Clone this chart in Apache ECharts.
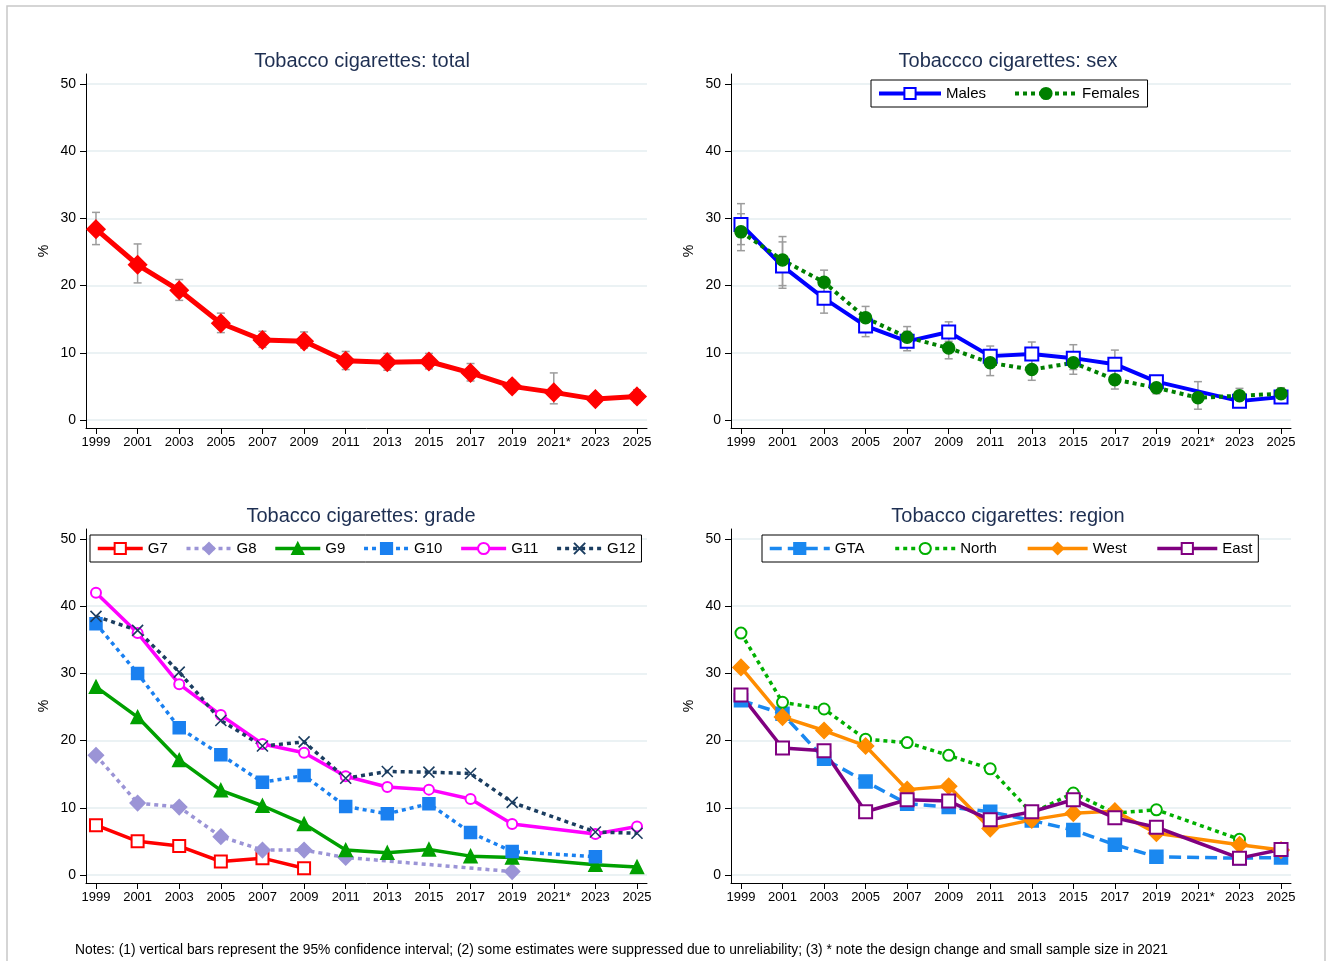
<!DOCTYPE html>
<html><head><meta charset="utf-8">
<script src="https://cdn.jsdelivr.net/npm/echarts@6/dist/echarts.min.js"></script>
<style>html,body{margin:0;padding:0;background:#fff}#c{width:1326px;height:961px}</style>
</head><body><div id="c"></div>
<script>
// ---------- data ----------
const yearLabels = ['1999','2001','2003','2005','2007','2009','2011','2013','2015','2017','2019','2021*','2023','2025'];
const yTicks = [0, 10, 20, 30, 40, 50];

const titles = ['Tobacco cigarettes: total', 'Tobaccco cigarettes: sex', 'Tobacco cigarettes: grade', 'Tobacco cigarettes: region'];
const noteText = 'Notes: (1) vertical bars represent the 95% confidence interval; (2) some estimates were suppressed due to unreliability; (3) * note the design change and small sample size in 2021';

const totalVals = [28.4, 23.1, 19.3, 14.4, 11.9, 11.7, 8.8, 8.6, 8.7, 7.0, 5.0, 4.1, 3.1, 3.5];
const totalLo   = [26.1, 20.4, 17.8, 13.0, 10.8, 10.7, 7.5, 7.4, 7.6, 5.8, 4.1, 2.4, 2.5, 2.6];
const totalHi   = [30.9, 26.2, 20.9, 15.9, 13.2, 13.1, 10.2, 9.9, 9.9, 8.4, 5.9, 7.0, 3.8, 4.5];

const malesVals = [29.1, 22.9, 18.1, 14.0, 11.7, 13.1, 9.5, 9.8, 9.2, 8.3, 5.7, null, 2.8, 3.4];
const malesLo   = [26.1, 19.6, 15.9, 12.4, 10.3, 11.7, 8.0, 8.1, 7.5, 6.4, 4.9, null, 2.0, 2.6];
const malesHi   = [32.2, 27.3, 20.2, 15.6, 13.2, 14.6, 11.0, 11.6, 11.2, 10.4, 6.5, null, 3.8, 4.4];
const femalesVals = [28.0, 23.8, 20.5, 15.2, 12.3, 10.7, 8.5, 7.5, 8.5, 6.0, 4.8, 3.3, 3.6, 3.9];
const femalesLo   = [25.2, 20.0, 18.7, 13.6, 10.9, 9.1, 6.6, 5.9, 6.8, 4.6, 3.9, 1.6, 2.7, 3.0];
const femalesHi   = [30.7, 26.5, 22.3, 16.9, 13.9, 12.2, 10.0, 9.0, 10.0, 7.4, 5.7, 5.7, 4.7, 4.8];

const g7  = [7.4, 5.0, 4.3, 2.0, 2.5, 1.0, null, null, null, null, null, null, null, null];
const g8  = [17.8, 10.7, 10.1, 5.7, 3.7, 3.7, 2.6, null, null, null, 0.5, null, null, null];
const g9  = [28.0, 23.5, 17.1, 12.6, 10.3, 7.6, 3.7, 3.3, 3.8, 2.8, 2.6, null, 1.5, 1.2];
const g10 = [37.4, 30.0, 21.9, 17.9, 13.8, 14.8, 10.2, 9.1, 10.6, 6.3, 3.5, null, 2.7, null];
const g11 = [42.0, 36.0, 28.4, 23.8, 19.5, 18.2, 14.7, 13.1, 12.7, 11.3, 7.6, null, 6.1, 7.2];
const g12 = [38.5, 36.4, 30.2, 23.0, 19.2, 19.8, 14.4, 15.4, 15.3, 15.1, 10.8, null, 6.4, 6.2];

const gta   = [26.0, 24.0, 17.3, 13.9, 10.6, 10.1, 9.4, 8.1, 6.7, 4.5, 2.7, null, 2.5, 2.6];
const north = [36.0, 25.7, 24.7, 20.2, 19.7, 17.8, 15.8, 9.2, 12.2, 9.2, 9.7, null, 5.3, null];
const west  = [30.9, 23.5, 21.5, 19.2, 12.7, 13.2, 6.9, 8.2, 9.2, 9.5, 6.2, null, 4.5, 3.7];
const east  = [26.8, 18.9, 18.5, 9.4, 11.2, 11.0, 8.2, 9.4, 11.2, 8.5, 7.1, null, 2.5, 3.8];

// ---------- build ----------
const FONT = '"Liberation Sans", Arial, sans-serif';
const yearNums = yearLabels.map(s => parseInt(s, 10));
const pairs = vals => yearNums.map((y, i) => [y, vals[i]]);

const gridPos = [
  {left: 86, top: 74, width: 561, height: 354},
  {left: 731, top: 74, width: 560, height: 354},
  {left: 86, top: 529, width: 561, height: 354},
  {left: 731, top: 529, width: 560, height: 354}
];

function xAxisFor(i) {
  return {
    type: 'value', gridIndex: i, min: 1998.52, max: 2025.48,
    axisLine: {show: true, onZero: false, lineStyle: {color: '#000', width: 1}},
    axisTick: {show: true, length: 6, customValues: yearNums, lineStyle: {color: '#000', width: 1}},
    axisLabel: {customValues: yearNums, formatter: v => yearLabels[yearNums.indexOf(Math.round(v))],
      fontSize: 13, color: '#000', fontFamily: FONT, margin: 8},
    splitLine: {show: false}
  };
}
function yAxisFor(i) {
  return {
    type: 'value', gridIndex: i, min: -1.2, max: 51.5,
    name: '%', nameLocation: 'middle', nameRotate: 90, nameGap: 35,
    nameTextStyle: {fontSize: 14, color: '#000', fontFamily: FONT},
    axisLine: {show: true, onZero: false, lineStyle: {color: '#000', width: 1}},
    axisTick: {show: true, length: 6, customValues: yTicks, lineStyle: {color: '#000', width: 1}},
    axisLabel: {customValues: yTicks, fontSize: 14, color: '#000', fontFamily: FONT, margin: 10},
    splitLine: {show: true, lineStyle: {color: '#e5eef1', width: 1.5}}
  };
}

function lineSeries(name, vals, gi, color, opts) {
  return {
    type: 'line', name: name, xAxisIndex: gi, yAxisIndex: gi,
    data: pairs(vals), connectNulls: true, z: 3,
    lineStyle: {color: color, width: opts.width || 3.5, type: opts.dash || 'solid', cap: 'butt'},
    itemStyle: {color: color, borderColor: color, borderWidth: opts.bw || 1.5},
    symbol: opts.symbol, symbolSize: opts.size, showSymbol: true
  };
}

function ciSeries(lo, hi, gi) {
  const d = [];
  yearNums.forEach((y, i) => { if (lo[i] != null) d.push([y, lo[i], hi[i]]); });
  return {
    type: 'custom', xAxisIndex: gi, yAxisIndex: gi, silent: true, z: 2,
    data: d, encode: {x: 0, y: [1, 2]},
    renderItem: function (params, api) {
      const x = api.value(0);
      const p1 = api.coord([x, api.value(1)]);
      const p2 = api.coord([x, api.value(2)]);
      const w = 4;
      const st = {stroke: '#9c9c9c', lineWidth: 1.5};
      return {type: 'group', children: [
        {type: 'line', shape: {x1: p1[0], y1: p1[1], x2: p2[0], y2: p2[1]}, style: st},
        {type: 'line', shape: {x1: p1[0] - w, y1: p1[1], x2: p1[0] + w, y2: p1[1]}, style: st},
        {type: 'line', shape: {x1: p2[0] - w, y1: p2[1], x2: p2[0] + w, y2: p2[1]}, style: st}
      ]};
    }
  };
}

const XPATH = 'path://M0,0L10,10M10,0L0,10';
const DOT = [4, 4];

const series = [
  ciSeries(totalLo, totalHi, 0),
  lineSeries('Total', totalVals, 0, '#ff0000', {symbol: 'diamond', size: 18, width: 5}),

  ciSeries(malesLo, malesHi, 1),
  ciSeries(femalesLo, femalesHi, 1),
  lineSeries('Males', malesVals, 1, '#0000ff', {symbol: 'emptyRect', size: 13, width: 4, bw: 1.8}),
  lineSeries('Females', femalesVals, 1, '#008000', {symbol: 'circle', size: 12, width: 4, dash: DOT}),

  lineSeries('G7', g7, 2, '#ff0000', {symbol: 'emptyRect', size: 12, bw: 1.5}),
  lineSeries('G8', g8, 2, '#9b94d6', {symbol: 'diamond', size: 15, dash: DOT}),
  lineSeries('G9', g9, 2, '#00a000', {symbol: 'triangle', size: 13}),
  lineSeries('G10', g10, 2, '#1a80f0', {symbol: 'rect', size: 12, dash: DOT}),
  lineSeries('G11', g11, 2, '#ff00ff', {symbol: 'emptyCircle', size: 10, bw: 1.5}),
  lineSeries('G12', g12, 2, '#1b3d60', {symbol: XPATH, size: 11, dash: DOT, bw: 1.6}),

  lineSeries('GTA', gta, 3, '#1a88f0', {symbol: 'rect', size: 13, dash: [12, 6]}),
  lineSeries('North', north, 3, '#00b000', {symbol: 'emptyCircle', size: 11, dash: DOT, bw: 1.5}),
  lineSeries('West', west, 3, '#ff8c00', {symbol: 'diamond', size: 16}),
  lineSeries('East', east, 3, '#800080', {symbol: 'emptyRect', size: 13, bw: 1.5})
];

const legendBase = {
  orient: 'horizontal', itemHeight: 14, borderColor: '#000', borderWidth: 1, borderRadius: 0,
  backgroundColor: '#fff', selectedMode: false,
  lineStyle: {width: 'inherit'},
  textStyle: {fontSize: 15, color: '#000', fontFamily: FONT}
};

const option = {
  animation: false,
  backgroundColor: '#fff',
  title: titles.map((t, i) => ({
    text: t, left: [357, 1003, 356, 1003][i], top: i < 2 ? 46 : 501, textAlign: 'center',
    textStyle: {fontSize: 20, fontWeight: 'normal', color: '#1e2f52', fontFamily: FONT}
  })),
  grid: gridPos,
  xAxis: [0, 1, 2, 3].map(xAxisFor),
  yAxis: [0, 1, 2, 3].map(yAxisFor),
  legend: [
    Object.assign({}, legendBase, {data: ['Males', 'Females'], left: 871, top: 80, itemWidth: 62, itemGap: 27, padding: [6, 8, 6, 6]}),
    Object.assign({}, legendBase, {data: ['G7', 'G8', 'G9', 'G10', 'G11', 'G12'], left: 90, top: 535, itemWidth: 45, itemGap: 17, padding: [6, 6]}),
    Object.assign({}, legendBase, {data: ['GTA', 'North', 'West', 'East'], left: 762, top: 535, itemWidth: 60, itemGap: 29, padding: [6, 6]})
  ],
  graphic: [
    {type: 'rect', silent: true, z: -1, shape: {x: 7, y: 6, width: 1318, height: 990},
      style: {fill: 'none', stroke: '#c8c8c8', lineWidth: 1.5}},
    {type: 'text', left: 75, top: 943, silent: true,
      style: {text: noteText, fontSize: 13.8, fill: '#000', fontFamily: FONT}}
  ],
  series: series
};

const chart = echarts.init(document.getElementById('c'), null, {renderer: 'canvas'});
chart.setOption(option);
</script>
</body></html>
